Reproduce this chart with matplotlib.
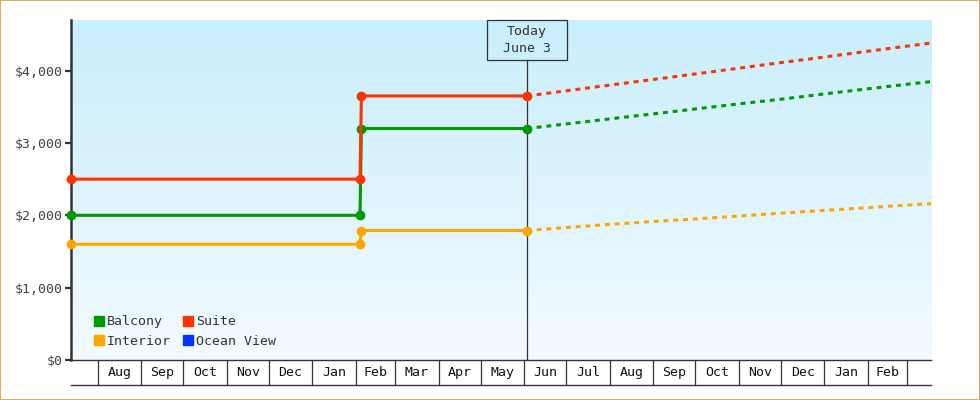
import matplotlib
matplotlib.use('Agg')
import matplotlib.pyplot as plt
import matplotlib.patches as patches
from matplotlib.lines import Line2D
from matplotlib.ticker import FuncFormatter
import numpy as np
import pandas as pd

plt.rcParams['font.family'] = ['DejaVu Sans Mono']

# price history (solid, with markers)
hist_dates = pd.to_datetime(['2024-07-13', '2025-02-04', '2025-02-05', '2025-06-03'])
balcony_hist = [2000, 2000, 3200, 3200]
suite_hist = [2500, 2500, 3650, 3650]
interior_hist = [1600, 1600, 1790, 1790]

# forecast (dotted)
fc_dates = pd.to_datetime(['2025-06-03', '2025-07-01', '2025-08-01', '2025-09-01', '2025-10-01',
                           '2025-11-01', '2025-12-01', '2026-01-01', '2026-02-01', '2026-03-01',
                           '2026-03-18'])
balcony_fc = [3200, 3263, 3333, 3402, 3470, 3541, 3605, 3678, 3749, 3812, 3848]
suite_fc = [3650, 3721, 3800, 3878, 3954, 4034, 4111, 4188, 4268, 4339, 4382]
interior_fc = [1790, 1831, 1875, 1915, 1950, 1990, 2030, 2068, 2106, 2142, 2161]

today = pd.Timestamp('2025-06-03')
today_label = 'Today\nJune 3'

month_starts = pd.date_range('2024-08-01', '2026-03-01', freq='MS')
y_ticks = [0, 1000, 2000, 3000, 4000]

colors = {'Balcony': '#009900', 'Suite': '#ff3300', 'Interior': '#ffa500', 'Ocean View': '#0033ff'}
dark = '#333333'

fig = plt.figure(figsize=(9.8, 4), dpi=100)
ax = fig.add_axes([71/980, 40/400, 860/980, 340/400])

xmin, xmax = hist_dates[0], fc_dates[-1]

# background gradient
grad = np.linspace(0, 1, 256).reshape(-1, 1)
top = np.array([201, 238, 252]) / 255
bot = np.array([243, 251, 255]) / 255
img = top[None, None, :] * (1 - grad[:, :, None]) + bot[None, None, :] * grad[:, :, None]
ax.imshow(img, extent=[0, 1, 0, 1], transform=ax.transAxes, aspect='auto', zorder=0)

series = [('Interior', interior_hist, interior_fc),
          ('Balcony', balcony_hist, balcony_fc),
          ('Suite', suite_hist, suite_fc)]
for name, h, f in series:
    c = colors[name]
    ax.plot(fc_dates, f, color=c, lw=2.2, linestyle=(0, (1.6, 1.6)), zorder=3)
    ax.plot(hist_dates, h, color=c, lw=2.2, marker='o', markersize=6, zorder=4, clip_on=False)

ax.set_xlim(xmin, xmax)
ax.set_ylim(0, 4700)

# today line and box
ax.plot([today, today], [0, 1 - 40/340], color=dark, lw=0.9, zorder=2,
        transform=ax.get_xaxis_transform())
tx = (today - xmin) / (xmax - xmin)
bw, bh = 80/860, 40/340
ax.add_patch(patches.Rectangle((tx - bw/2, 1 - bh), bw, bh, transform=ax.transAxes,
                               fill=False, edgecolor=dark, lw=0.9, zorder=5, clip_on=False))
ax.text(tx, 1 - bh/2, today_label, transform=ax.transAxes, ha='center', va='center',
        fontsize=9.5, color=dark, linespacing=1.35, zorder=6)

# y axis
ax.set_yticks(y_ticks)
ax.yaxis.set_major_formatter(FuncFormatter(lambda v, p: '${:,.0f}'.format(v)))
ax.tick_params(axis='y', length=4, width=1.6, color=dark, labelsize=9.5, labelcolor='#444444', pad=2)

# x axis: month cells
band = 25/340
ax.set_xticks(month_starts)
ax.set_xticklabels([''] * len(month_starts))
mids = [month_starts[i] + (month_starts[i+1] - month_starts[i]) / 2 for i in range(len(month_starts) - 1)]
ax.set_xticks(mids, minor=True)
ax.set_xticklabels([d.strftime('%b') for d in mids], minor=True)
ax.tick_params(axis='x', which='major', length=18, width=0.9, color=dark, direction='out')
ax.tick_params(axis='x', which='minor', length=0, labelsize=9.5, labelcolor='#111111', pad=4)
ax.plot([0, 1], [-band, -band], transform=ax.transAxes, color=dark, lw=1.0, clip_on=False)

for s in ['top', 'right']:
    ax.spines[s].set_visible(False)
ax.spines['left'].set_linewidth(1.8)
ax.spines['left'].set_color(dark)
ax.spines['bottom'].set_linewidth(1.0)
ax.spines['bottom'].set_color(dark)

# legend
handles = [Line2D([], [], marker='s', linestyle='none', markersize=7.5, color=colors[n], label=n)
           for n in ['Balcony', 'Interior', 'Suite', 'Ocean View']]
ax.legend(handles=handles, ncol=2, loc='lower left', bbox_to_anchor=(0.017, 0.012),
          frameon=False, fontsize=9.5, handlelength=0.8, handletextpad=0.2,
          columnspacing=0.9, labelspacing=0.5, borderaxespad=0.2, labelcolor=dark)

# outer border
fig.add_artist(patches.Rectangle((0, 0), 1, 1, transform=fig.transFigure, fill=False,
                                 edgecolor='#e8a865', lw=1.5))

fig.savefig('out.png', dpi=100)
